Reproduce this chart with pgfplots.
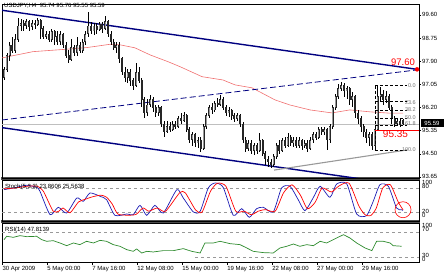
\documentclass[border=0pt]{standalone}
\usepackage{pgfplots}
\pgfplotsset{compat=1.18}
\usepackage{pgfplotstable}
\usepackage{fontspec}
\setmainfont{Liberation Sans}
\newcommand\sm{\fontsize{6}{7}\selectfont}
\newcommand\smm{\fontsize{5.5}{6}\selectfont}
\definecolor{navyc}{HTML}{000080}
\definecolor{stblue}{HTML}{1C1CB4}
\definecolor{rsig}{HTML}{2E8B2E}
\definecolor{mared}{HTML}{F07070}

\pgfplotstableread{
i o h l c
0 97.30 97.70 97.20 97.60
1 97.60 98.20 97.50 98.10
2 98.10 98.60 97.90 98.50
3 98.50 98.80 98.20 98.30
4 98.30 98.90 98.20 98.70
5 98.70 99.50 98.60 99.20
6 99.20 99.45 99.00 99.30
7 99.30 99.40 99.00 99.20
8 99.20 99.45 99.10 99.35
9 99.35 99.40 99.00 99.15
10 99.15 99.40 99.05 99.30
11 99.30 99.40 99.10 99.25
12 99.25 99.48 99.20 99.40
13 99.40 99.45 98.70 99.10
14 99.10 99.20 98.70 98.80
15 98.80 99.00 98.70 98.90
16 98.90 99.00 98.60 98.70
17 98.70 99.10 98.60 99.00
18 99.00 99.05 98.50 98.80
19 98.80 99.00 98.50 98.60
20 98.60 99.00 98.50 98.90
21 98.90 98.95 98.40 98.50
22 98.50 98.60 98.00 98.10
23 98.10 98.30 97.85 97.95
24 97.95 98.70 97.90 98.40
25 98.40 98.50 98.10 98.20
26 98.20 98.80 98.10 98.50
27 98.50 98.60 98.20 98.30
28 98.30 98.70 98.20 98.60
29 98.60 99.00 98.50 98.90
30 98.90 99.72 98.80 99.20
31 99.20 99.35 98.90 99.00
32 99.00 99.30 98.85 99.20
33 99.20 99.30 98.90 99.05
34 99.05 99.35 99.00 99.25
35 99.25 99.35 98.95 99.10
36 99.10 99.55 99.05 99.35
37 99.35 99.40 98.80 98.90
38 98.90 99.00 98.50 98.60
39 98.60 98.70 98.30 98.40
40 98.40 98.60 98.20 98.50
41 98.50 98.60 97.85 98.00
42 98.00 98.05 97.40 97.50
43 97.50 97.70 97.15 97.30
44 97.30 97.60 97.10 97.50
45 97.50 97.60 97.00 97.20
46 97.20 97.30 96.85 97.00
47 97.00 97.85 96.95 97.50
48 97.50 97.70 97.10 97.20
49 97.20 97.30 96.20 96.50
50 96.50 96.60 95.80 96.00
51 96.00 96.50 95.90 96.30
52 96.30 96.66 96.20 96.50
53 96.50 96.60 96.05 96.20
54 96.20 96.30 95.85 96.00
55 96.00 96.30 95.90 96.20
56 96.20 96.25 95.50 95.60
57 95.60 95.70 95.10 95.30
58 95.30 95.70 95.25 95.50
59 95.50 95.65 95.30 95.40
60 95.40 95.70 95.35 95.60
61 95.60 95.70 95.40 95.50
62 95.50 95.90 95.45 95.80
63 95.80 96.00 95.60 95.70
64 95.70 96.05 95.65 95.90
65 95.90 95.95 95.30 95.40
66 95.40 95.50 94.90 95.00
67 95.00 95.30 94.80 95.20
68 95.20 95.25 94.75 94.90
69 94.90 95.10 94.70 95.00
70 95.00 95.10 94.56 94.70
71 94.70 95.60 94.65 95.50
72 95.50 96.00 95.40 95.90
73 95.90 96.30 95.80 96.20
74 96.20 96.35 95.95 96.10
75 96.10 96.45 96.05 96.35
76 96.35 96.55 96.20 96.30
77 96.30 96.66 96.25 96.50
78 96.50 96.60 96.10 96.20
79 96.20 96.30 95.90 96.00
80 96.00 96.20 95.85 96.10
81 96.10 96.15 95.75 95.90
82 95.90 96.00 95.65 95.80
83 95.80 96.00 95.70 95.90
84 95.90 95.95 95.50 95.60
85 95.60 95.65 94.90 95.00
86 95.00 95.10 94.56 94.70
87 94.70 95.00 94.60 94.90
88 94.90 95.00 94.50 94.60
89 94.60 94.90 94.45 94.80
90 94.80 94.90 94.50 94.60
91 94.60 95.28 94.55 95.00
92 95.00 95.05 94.40 94.50
93 94.50 94.60 94.10 94.30
94 94.30 94.40 94.00 94.20
95 94.20 94.30 93.97 94.10
96 94.10 94.50 94.00 94.40
97 94.40 94.90 94.30 94.80
98 94.80 95.00 94.50 94.60
99 94.60 95.08 94.55 95.00
100 95.00 95.10 94.70 94.80
101 94.80 95.26 94.75 95.10
102 95.10 95.20 94.80 94.90
103 94.90 95.10 94.75 95.00
104 95.00 95.10 94.70 94.80
105 94.80 95.10 94.70 95.00
106 95.00 95.05 94.65 94.80
107 94.80 95.00 94.70 94.90
108 94.90 95.00 94.56 94.70
109 94.70 95.10 94.65 95.00
110 95.00 95.30 94.90 95.20
111 95.20 95.30 95.00 95.10
112 95.10 95.48 95.05 95.40
113 95.40 95.48 95.20 95.30
114 95.30 95.50 95.20 95.40
115 95.40 95.45 94.64 95.00
116 95.00 95.60 94.90 95.50
117 95.50 96.30 95.40 96.20
118 96.20 96.70 96.10 96.60
119 96.60 97.05 96.50 96.90
120 96.90 97.15 96.80 97.00
121 97.00 97.10 96.60 96.80
122 96.80 97.00 96.50 96.90
123 96.90 96.95 96.30 96.50
124 96.50 96.75 96.20 96.60
125 96.60 96.65 95.80 96.00
126 96.00 96.10 95.60 95.80
127 95.80 95.90 95.30 95.50
128 95.50 95.60 95.10 95.30
129 95.30 95.40 94.90 95.10
130 95.10 95.30 94.80 95.20
131 95.20 95.30 94.64 94.80
132 94.80 95.50 94.64 95.40
133 95.40 97.00 95.35 96.60
134 96.60 96.95 96.40 96.70
135 96.70 96.85 96.30 96.50
136 96.50 96.80 96.35 96.60
137 96.60 96.70 96.10 96.20
138 96.20 96.30 95.60 95.80
139 95.80 95.90 95.50 95.60
140 95.60 95.80 95.55 95.70
141 95.70 95.80 95.50 95.55
142 95.74 95.76 95.55 95.59
}\candles

\begin{document}
\begin{tikzpicture}
\useasboundingbox (0pt,0pt) rectangle (448pt,280pt);
\fill[black!70] (1pt,99.5pt) rectangle (420pt,102.5pt);
\fill[black!70] (1pt,56.5pt) rectangle (420pt,59.5pt);

% ---------------- main price panel
\begin{axis}[at={(2pt,102pt)}, anchor=south west, scale only axis,
  width=417pt, height=174pt,
  xmin=-0.712, xmax=147.69, ymin=93.61, ymax=100.0,
  axis line style={black, line width=0.6pt},
  xtick=\empty,
  ytick={93.65,94.50,95.35,96.20,97.05,97.90,98.75,99.60},
  ytick pos=right, yticklabel pos=right,
  tick align=outside, major tick length=2pt, tick style={black, line width=0.4pt},
  yticklabel style={font=\sm, anchor=west, inner xsep=1pt,
    /pgf/number format/.cd, fixed, fixed zerofill, precision=2, assume math mode=true},
]
% bid line
\addplot[black!25, line width=0.5pt] coordinates {(-0.712,95.59) (147.69,95.59)};
% moving average
\addplot[mared, line width=0.6pt] coordinates {
(-0.7,98.02) (10.3,98.25) (22.4,98.34) (29.5,98.40) (37.7,98.52) (41.3,98.50)
(46.6,98.39) (52,98.13) (58.4,97.88) (62.6,97.70) (70.5,97.33) (77.9,97.21)
(82.2,97.03) (88.3,96.92) (96.4,96.48) (101.8,96.29) (108.9,96.11) (116.7,96.00)
(123.1,96.11) (130.2,96.04) (137.4,95.99) (142,95.99)};
% channel lines
\addplot[navyc, line width=1.4pt] coordinates {(-0.712,99.77) (147,97.60)};
\addplot[navyc, line width=1.4pt] coordinates {(-0.712,95.46) (147.69,93.27)};
\addplot[navyc, line width=0.8pt, dash pattern=on 6pt off 3pt] coordinates {(-0.712,95.74) (147,97.58)};
% candles: wicks
\addplot[draw=none, mark=none, error bars/.cd, y dir=both, y explicit, error mark=none,
  error bar style={draw=black, line width=0.55pt}]
  table[x=i, y=c, y error plus expr=\thisrow{h}-\thisrow{c}, y error minus expr=\thisrow{c}-\thisrow{l}] {\candles};
% candles: bodies
\addplot[draw=none, mark=none, error bars/.cd, y dir=both, y explicit, error mark=none,
  error bar style={draw=black!85, line width=2pt}]
  table[x=i, y expr=(\thisrow{o}+\thisrow{c})/2, y error expr=abs(\thisrow{c}-\thisrow{o})/2+0.01] {\candles};
\addplot[draw=none, mark=none, restrict expr to domain={\thisrow{c}-\thisrow{o}}{0.06:100},
  error bars/.cd, y dir=both, y explicit, error mark=none,
  error bar style={draw=black!40, line width=1pt}]
  table[x=i, y expr=(\thisrow{o}+\thisrow{c})/2, y error expr=abs(\thisrow{c}-\thisrow{o})/2-0.025] {\candles};
% gray trend line
\addplot[black!40, line width=1.1pt] coordinates {(96.1,93.90) (143.4,94.64)};
% fibonacci levels
\addplot[black, line width=0.4pt, densely dashed] coordinates {(132,97.00) (143.5,97.00)};
\addplot[black, line width=0.4pt, densely dashed] coordinates {(132,96.44) (143.5,96.44)};
\addplot[black, line width=0.4pt, densely dashed] coordinates {(132,96.10) (143.5,96.10)};
\addplot[black, line width=0.4pt, densely dashed] coordinates {(132,95.82) (143.5,95.82)};
\addplot[black, line width=0.4pt, densely dashed] coordinates {(132,95.54) (143.5,95.54)};
\addplot[black, line width=0.4pt, densely dashed] coordinates {(132,94.64) (143.5,94.64)};
\addplot[black, line width=0.4pt, densely dashed] coordinates {(132,97.00) (132,94.64)};
% red level
\addplot[red, line width=1.1pt] coordinates {(132,95.37) (147.69,95.37)};
% red point on the channel
\addplot[red, only marks, mark=*, mark size=2pt] coordinates {(147,97.60)};
\end{axis}

% ---------------- stochastic panel
\begin{axis}[at={(2pt,59pt)}, anchor=south west, scale only axis,
  width=417pt, height=41pt,
  xmin=-0.712, xmax=147.69, ymin=-2.5, ymax=100,
  axis line style={black, line width=0.6pt},
  xtick=\empty, ytick=\empty,
]
\addplot[black!40, dashed, line width=0.4pt] coordinates {(-0.712,80) (147.69,80)};
\addplot[black!40, dashed, line width=0.4pt] coordinates {(-0.712,20) (147.69,20)};
\addplot[stblue, line width=0.7pt, smooth, tension=0.4] coordinates {
(0,75.8)(3.3,80)(8,86.7)(11.6,81.7)(12.8,71.7)(16.4,13.3)(19.3,31.7)(22.3,17.5)
(25.9,55)(28.2,46.7)(30.6,67.5)(34.2,59.2)(36.5,50.8)(39.5,11.7)(43.7,15)(46,13.3)
(48.4,36.7)(50.8,11.7)(53.7,36.7)(56.7,17.5)(61.5,75.8)(63.8,55)(67.4,20)(69.8,21.7)
(72.7,80)(75.1,92.5)(78,81.7)(81.6,11.7)(84.6,28.3)(87.3,6.7)(89.9,28.3)(92.3,31.7)
(95.8,20)(98.8,80)(101.8,84.2)(104.7,50.8)(107.1,23.3)(110,55)(112.5,84.2)(116,56.7)
(118.4,90)(122,90)(125.5,15)(129,10.8)(131.4,46.7)(133.8,88.3)(136.8,84.2)(139.7,30)
(141.5,25.6)(142,23.86)};
\addplot[red, line width=0.7pt, smooth, tension=0.4] coordinates {
(0,78)(4,80)(9,85)(12,84)(14,72)(17.5,22)(19.5,22)(21,30)(23.5,18)(26.5,45)(29,52)
(31.5,58)(34.5,62)(36.5,57)(38.5,40)(40.5,15)(44,12)(47,14)(49.5,30)(51.5,22)(54.5,30)
(57.5,22)(62.5,68)(64.5,68)(68.2,25)(70.5,20)(73.5,72)(76,92)(79,84)(82.5,22)(85.5,22)
(88,13)(90.5,22)(93,26)(96.5,22)(99.5,68)(102.5,88)(105.5,62)(108,28)(110.8,45)
(113.2,80)(116.5,70)(119.2,85)(122.8,92)(126.3,35)(128.5,13)(130.5,11)(132.5,30)
(134.8,80)(137.5,88)(140.3,45)(142,25.56)};
\draw[red, line width=0.6pt] (axis cs:142,25.7) ellipse (8pt and 8pt);
\end{axis}

% ---------------- RSI panel
\begin{axis}[at={(2pt,18pt)}, anchor=south west, scale only axis,
  width=417pt, height=39pt,
  xmin=-0.712, xmax=147.69, ymin=23.3, ymax=84.0,
  axis line style={black, line width=0.6pt},
  ytick=\empty,
  xtick={-0.6,15.4,31.4,47.4,63.4,79.4,95.4,111.4,127.4},
  xticklabels={30 Apr 2009, 5 May 00:00, 7 May 16:00, 12 May 08:00, 15 May 00:00, 19 May 16:00, 22 May 08:00, 27 May 00:00, 29 May 16:00},
  xtick pos=bottom, tick align=outside, major tick length=3pt, tick style={black, line width=0.4pt},
  xticklabel style={font=\sm, anchor=north west, inner xsep=0pt, inner ysep=1pt},
]
\addplot[black!40, dashed, line width=0.4pt] coordinates {(-0.712,70) (147.69,70)};
\addplot[black!40, dashed, line width=0.4pt] coordinates {(68,30) (147.69,30)};
\addplot[rsig, line width=0.7pt] coordinates {
(0,58.1)(0.95,63.3)(3.3,61.7)(5.7,64.3)(8.1,62.7)(11.6,63.3)(13.4,58.1)(15.2,55.5)
(17.5,56.5)(19.9,52.9)(22.3,48.7)(24.7,52.9)(27,50.3)(29.4,55.5)(31.8,52.9)(34.2,57.0)
(36.5,55.5)(38.9,50.3)(41.3,47.7)(43.7,42.5)(46,39.9)(47.2,43.6)(49,37.3)(50.8,39.9)
(53.1,38.9)(56.7,41.0)(60.3,41.0)(63.8,44.1)(66.8,39.9)(69.8,37.3)(71.5,52.9)(74.5,52.9)
(76.9,55.5)(80.4,51.9)(84,50.3)(86.4,45.1)(88.7,39.9)(92.3,37.9)(95.8,37.3)(98.2,45.1)
(100.6,47.7)(103,51.3)(105.3,47.7)(107.7,50.3)(110.1,48.7)(112.5,55.5)(114.8,52.9)
(118.4,60.7)(120.8,65.8)(123.1,60.7)(125.5,52.9)(128.5,45.1)(130.9,41.0)(132.6,55.5)
(135,55.5)(137.4,52.9)(138.5,48.7)(141.5,47.8)};
\end{axis}

% ---------------- texts
\node[font=\sm, anchor=north west, inner sep=0pt] at (4pt,277pt) {USDJPY,H4\ \ 95.74 95.76 95.55 95.59};
\node[font=\sm, anchor=north west, inner sep=0pt] at (5pt,96pt) {Stoch(5,3,3) 23.8606 25.5638};
\node[font=\sm, anchor=north west, inner sep=0pt] at (5pt,53.5pt) {RSI(14) 47.8139};

\node[font=\fontsize{9.5}{10}\selectfont, text=red, inner sep=0pt] at (403pt,217.5pt) {97.60};
\node[font=\fontsize{10}{11}\selectfont, text=red, inner sep=0pt] at (395.5pt,145.5pt) {95.35};

\foreach \lab/\yy in {0.0/194.3, 23.6/177.7, 38.2/170, 50.0/162.3, 61.8/156.7, 100.0/130}{
  \node[font=\smm, text=black!55, anchor=east, inner sep=0pt] at (416pt,\yy pt) {\lab};
}

% current price box
\fill[black] (420.5pt,152.5pt) rectangle (444pt,160.5pt);
\node[font=\sm, text=white, inner sep=0pt] at (432pt,156.5pt) {95.59};

% oscillator scales
\node[font=\sm, anchor=west, inner sep=0pt] at (422pt,97.5pt) {100};
\node[font=\sm, anchor=west, inner sep=0pt] at (422pt,93.5pt) {80};
\node[font=\sm, anchor=west, inner sep=0pt] at (422pt,69pt) {20};
\node[font=\sm, anchor=west, inner sep=0pt] at (422pt,65pt) {0};
\node[font=\sm, anchor=west, inner sep=0pt] at (422pt,54.5pt) {100};
\node[font=\sm, anchor=west, inner sep=0pt] at (422pt,51pt) {70};
\node[font=\sm, anchor=west, inner sep=0pt] at (422pt,24.5pt) {30};
\node[font=\sm, anchor=west, inner sep=0pt] at (422pt,20.5pt) {0};
\end{tikzpicture}
\end{document}
